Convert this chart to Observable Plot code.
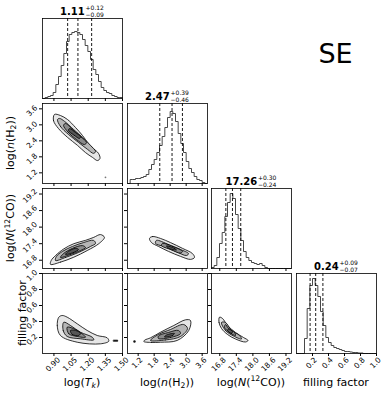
<!DOCTYPE html>
<html><head><meta charset="utf-8">
<script src="https://cdn.jsdelivr.net/npm/d3@7"></script>
<script src="https://cdn.jsdelivr.net/npm/@observablehq/plot@0.6"></script>
<style>
body{margin:0;background:#fff;}
#fig{position:relative;width:389px;height:395px;overflow:hidden;background:#fff;font-family:"DejaVu Sans",sans-serif;}
</style></head><body><div id="fig"></div><script>
// ---------------- data ----------------
const paramRanges = [[0.8, 1.5], [0.8, 3.8], [16.5, 19.4], [0.0, 1.0]];
const tickValues = [[0.90, 1.05, 1.20, 1.35, 1.50], [1.2, 1.8, 2.4, 3.0, 3.6], [16.8, 17.4, 18.0, 18.6, 19.2], [0.2, 0.4, 0.6, 0.8, 1.0]];
const tickLabels = [["0.90", "1.05", "1.20", "1.35", "1.50"], ["1.2", "1.8", "2.4", "3.0", "3.6"], ["16.8", "17.4", "18.0", "18.6", "19.2"], ["0.2", "0.4", "0.6", "0.8", "1.0"]];
const medians = [1.11, 2.47, 17.26, 0.24];
const errPlus = [0.12, 0.39, 0.30, 0.09];
const errMinus = [0.09, 0.46, 0.24, 0.07];

// histogram counts (30 equal bins across each parameter range)
const histTk = [0,1,2,3,6,14,22,33,45,57,64,66,67,66,64,59,53,47,39,29,24,17,11,8,6,5,3,2,1,1];
const histNH2 = [0,4,4,5,5,6,7,9,14,19,24,31,38,47,56,66,72,70,62,50,40,31,22,15,11,7,4,3,1,0];
const histNCO = [1,3,11,25,36,52,66,75,70,54,40,28,17,11,8,6,5,4,5,3,1,0,0,0,0,0,0,0,0,0];
const histFF = [0,0,0,15,45,68,75,68,57,42,28,16,11,8,6,5,4,3,2,2,1.5,1,1,0.5,0.5,0,0,0,0,0];

// 2D contours (outer -> inner), [x, y] in parameter units
const cTkNH2 = [
  [[0.905,3.39],[0.896,3.16],[0.940,2.86],[1.019,2.53],[1.106,2.23],[1.176,1.96],[1.237,1.78],[1.281,1.66],[1.303,1.74],[1.290,1.93],[1.246,2.11],[1.202,2.30],[1.150,2.60],[1.089,2.90],[1.019,3.20],[0.957,3.35]],
  [[0.931,3.20],[0.957,2.94],[1.027,2.64],[1.115,2.34],[1.194,2.08],[1.246,1.93],[1.264,2.00],[1.220,2.23],[1.150,2.53],[1.071,2.83],[0.993,3.13],[0.949,3.24]],
  [[0.984,2.98],[1.027,2.71],[1.097,2.45],[1.167,2.26],[1.185,2.34],[1.132,2.56],[1.062,2.83],[1.001,3.05]],
  [[1.027,2.79],[1.080,2.60],[1.124,2.49],[1.132,2.56],[1.089,2.71],[1.036,2.86]]
];
const pTkNH2 = [[1.351, 1.03]];
const cTkNCO = [
  [[0.870,16.65],[0.957,16.73],[1.074,16.91],[1.191,17.15],[1.293,17.40],[1.342,17.63],[1.307,17.73],[1.249,17.63],[1.176,17.52],[1.074,17.40],[0.986,17.21],[0.914,16.97],[0.876,16.79]],
  [[0.914,16.79],[1.001,16.90],[1.115,17.08],[1.220,17.30],[1.264,17.41],[1.246,17.52],[1.159,17.44],[1.062,17.30],[0.975,17.12],[0.922,16.94]],
  [[0.957,16.90],[1.045,17.01],[1.132,17.15],[1.176,17.26],[1.150,17.33],[1.062,17.23],[0.984,17.04]],
  [[1.001,17.01],[1.071,17.08],[1.115,17.19],[1.089,17.23],[1.027,17.12]]
];
const cTkFF = [
  [[0.943,0.454],[0.929,0.350],[0.957,0.225],[1.104,0.141],[1.307,0.121],[1.380,0.154],[1.366,0.196],[1.279,0.225],[1.191,0.288],[1.104,0.371],[1.016,0.454],[0.972,0.475]],
  [[0.986,0.391],[0.981,0.288],[1.016,0.213],[1.132,0.184],[1.249,0.171],[1.235,0.204],[1.132,0.266],[1.045,0.350]],
  [[1.016,0.329],[1.030,0.246],[1.104,0.213],[1.176,0.204],[1.147,0.246],[1.074,0.309]],
  [[1.045,0.288],[1.060,0.238],[1.118,0.225],[1.132,0.254],[1.089,0.288]]
];
const iTkFF = [[1.422,0.168],[1.458,0.168],[1.458,0.152],[1.422,0.152]];
const cNH2NCO = [
  [[1.625,17.59],[1.737,17.66],[2.037,17.59],[2.412,17.44],[2.862,17.23],[3.237,17.04],[3.312,16.90],[3.162,16.83],[2.787,16.94],[2.337,17.12],[1.962,17.30],[1.700,17.44]],
  [[1.887,17.52],[2.337,17.37],[2.787,17.19],[3.087,17.04],[3.012,16.97],[2.600,17.12],[2.150,17.30],[1.850,17.41]],
  [[2.112,17.41],[2.487,17.30],[2.862,17.12],[2.787,17.06],[2.412,17.19],[2.075,17.33]],
  [[2.262,17.32],[2.562,17.23],[2.637,17.17],[2.337,17.24]]
];
const cNH2FF = [
  [[1.411,0.150],[1.700,0.138],[2.037,0.141],[2.664,0.163],[3.098,0.288],[3.162,0.413],[2.975,0.421],[2.536,0.350],[2.037,0.266],[1.662,0.196],[1.450,0.168]],
  [[1.662,0.163],[2.225,0.169],[2.787,0.213],[3.050,0.313],[2.900,0.363],[2.412,0.300],[1.962,0.238]],
  [[1.962,0.188],[2.412,0.200],[2.787,0.250],[2.712,0.288],[2.337,0.263],[1.962,0.219]],
  [[2.187,0.206],[2.487,0.225],[2.562,0.250],[2.262,0.231]]
];
const pNH2FF = [[1.062, 0.150]];
const cNCOFF = [
  [[16.790,0.454],[16.772,0.388],[16.862,0.313],[17.080,0.238],[17.370,0.181],[17.732,0.144],[17.823,0.163],[17.660,0.200],[17.370,0.263],[17.080,0.350],[16.899,0.438]],
  [[16.862,0.388],[17.007,0.288],[17.297,0.219],[17.587,0.181],[17.515,0.225],[17.225,0.288],[17.007,0.388]],
  [[16.971,0.325],[17.152,0.263],[17.370,0.225],[17.334,0.263],[17.116,0.313],[17.007,0.363]],
  [[17.080,0.288],[17.225,0.250],[17.261,0.275],[17.116,0.306]]
];

// labels
const axisLabels = [
  [["log(", ""], ["T", "i"], ["k", "i sub"], [")", ""]],
  [["log(", ""], ["n", "i"], ["(H", ""], ["2", "sub"], ["))", ""]],
  [["log(", ""], ["N", "i"], ["(", ""], ["12", "sup"], ["CO))", ""]],
  [["filling factor", ""]]
];
const figTitle = "SE";

// ---------------- layout ----------------
const L = [42, 127, 211, 296], T = [18, 103, 188, 273], W = 80, H = 80;
const levelFills = ["#e6e6e6", "#b6b6b6", "#8a8a8a", "#555555"];
const fig = document.getElementById("fig");

function stepPoints(counts, lo, hi) {
  const n = counts.length, w = (hi - lo) / n, pts = [{x: lo, y: 0}];
  counts.forEach((c, i) => { pts.push({x: lo + i * w, y: c}, {x: lo + (i + 1) * w, y: c}); });
  pts.push({x: hi, y: 0});
  return pts;
}

function contourMarks(levels) {
  return levels.map((poly, k) => Plot.line(poly, {
    x: d => d[0], y: d => d[1], curve: "catmull-rom-closed",
    fill: levelFills[k], stroke: "#000", strokeWidth: 0.8
  }));
}

function makePanel(c, r, marks, hist) {
  const opts = {
    width: W, height: H, margin: 0,
    style: {position: "absolute", left: L[c] + "px", top: T[r] + "px", background: "transparent",
            overflow: "visible", fontFamily: "DejaVu Sans, sans-serif", color: "#000"},
    x: {domain: paramRanges[c], ticks: tickValues[c], tickSize: 3, tickFormat: () => "", label: null},
    y: hist ? {domain: [0, 80], axis: null}
            : {domain: paramRanges[r], ticks: tickValues[r], tickSize: 3, tickFormat: () => "", label: null},
    marks: [...marks]
  };
  if (r === 3) {
    const long = tickLabels[c][0].length > 3;
    opts.marks.push(Plot.text(tickValues[c], {
      x: d => d, text: (d, i) => tickLabels[c][i], frameAnchor: "bottom", rotate: -45,
      textAnchor: "middle", lineAnchor: "middle", dy: long ? 11 : 9.5, dx: -1, fontSize: 7.5, fill: "#000"
    }));
  }
  if (c === 0 && r > 0) {
    const long = tickLabels[r][0].length > 3;
    opts.marks.push(Plot.text(tickValues[r], {
      y: d => d, text: (d, i) => tickLabels[r][i], frameAnchor: "left", rotate: -45,
      textAnchor: "middle", lineAnchor: "middle", dx: long ? -12.5 : -10.5, dy: 2, fontSize: 7.5, fill: "#000"
    }));
  }
  opts.marks.push(Plot.frame({stroke: "#000", strokeWidth: 0.8}));
  fig.append(Plot.plot(opts));
}

// histograms on the diagonal
const hists = [histTk, histNH2, histNCO, histFF];
hists.forEach((h, c) => {
  const q = [medians[c] - errMinus[c], medians[c], medians[c] + errPlus[c]];
  makePanel(c, c, [
    Plot.line(stepPoints(h, paramRanges[c][0], paramRanges[c][1]), {x: "x", y: "y", stroke: "#333", strokeWidth: 0.9}),
    Plot.ruleX(q, {stroke: "#000", strokeWidth: 0.9, strokeDasharray: "3,2"})
  ], true);
});

// 2D panels
makePanel(0, 1, [...contourMarks(cTkNH2), Plot.dot(pTkNH2, {x: d => d[0], y: d => d[1], r: 0.9, fill: "#777"})]);
makePanel(0, 2, contourMarks(cTkNCO));
makePanel(0, 3, [...contourMarks(cTkFF), Plot.line(iTkFF, {x: d => d[0], y: d => d[1], curve: "linear-closed", fill: "#222", stroke: "#000", strokeWidth: 0.6})]);
makePanel(1, 2, contourMarks(cNH2NCO));
makePanel(1, 3, [...contourMarks(cNH2FF), Plot.dot(pNH2FF, {x: d => d[0], y: d => d[1], r: 1.2, fill: "#111"})]);
makePanel(2, 3, contourMarks(cNCOFF));

// ---------------- text overlay ----------------
const ov = d3.select(fig).append("svg")
  .attr("width", 389).attr("height", 395)
  .style("position", "absolute").style("left", "0px").style("top", "0px").style("overflow", "visible")
  .attr("font-family", "DejaVu Sans, sans-serif").attr("fill", "#000");

// titles above histograms: value with stacked +/- errors
medians.forEach((m, c) => {
  const cx = L[c] + W / 2, base = T[c] - 3;
  const t = ov.append("text").attr("y", base).attr("text-anchor", "start");
  const main = t.append("tspan").attr("font-size", 10).attr("font-weight", "bold").text(m.toFixed(2));
  const sup = t.append("tspan").attr("font-size", 6).attr("dy", -5.5).text("+" + errPlus[c].toFixed(2));
  const sub = t.append("tspan").attr("font-size", 6).attr("dy", 7).text("\u2212" + errMinus[c].toFixed(2));
  const wm = main.node().getComputedTextLength();
  const ws = Math.max(sup.node().getComputedTextLength(), sub.node().getComputedTextLength());
  const x0 = cx - (wm + 0.8 + ws) / 2;
  t.attr("x", x0);
  main.attr("x", x0);
  sup.attr("x", x0 + wm + 0.8);
  sub.attr("x", x0 + wm + 0.8);
});

function richText(sel, parts, size) {
  const t = sel.append("text").attr("font-size", size).attr("text-anchor", "middle");
  let shift = 0;
  parts.forEach(([s, kind]) => {
    const ts = t.append("tspan").text(s);
    const target = kind.includes("sub") ? size * 0.22 : kind.includes("sup") ? -size * 0.38 : 0;
    ts.attr("dy", target - shift);
    shift = target;
    if (kind.includes("i")) ts.attr("font-style", "italic");
    if (target !== 0) ts.attr("font-size", size * 0.7);
  });
  return t;
}

// x labels
axisLabels.forEach((parts, c) => {
  const g = ov.append("g").attr("transform", `translate(${L[c] + W / 2},385.5)`);
  richText(g, parts, 11);
});
// y labels
[1, 2, 3].forEach(r => {
  const bx = r === 3 ? 26.4 : 13.8;
  const g = ov.append("g").attr("transform", `translate(${bx},${T[r] + H / 2}) rotate(-90)`);
  richText(g, axisLabels[r], 11);
});

ov.append("text").attr("x", 335.5).attr("y", 62.5).attr("font-size", 27).attr("text-anchor", "middle").text(figTitle);
</script></body></html>
